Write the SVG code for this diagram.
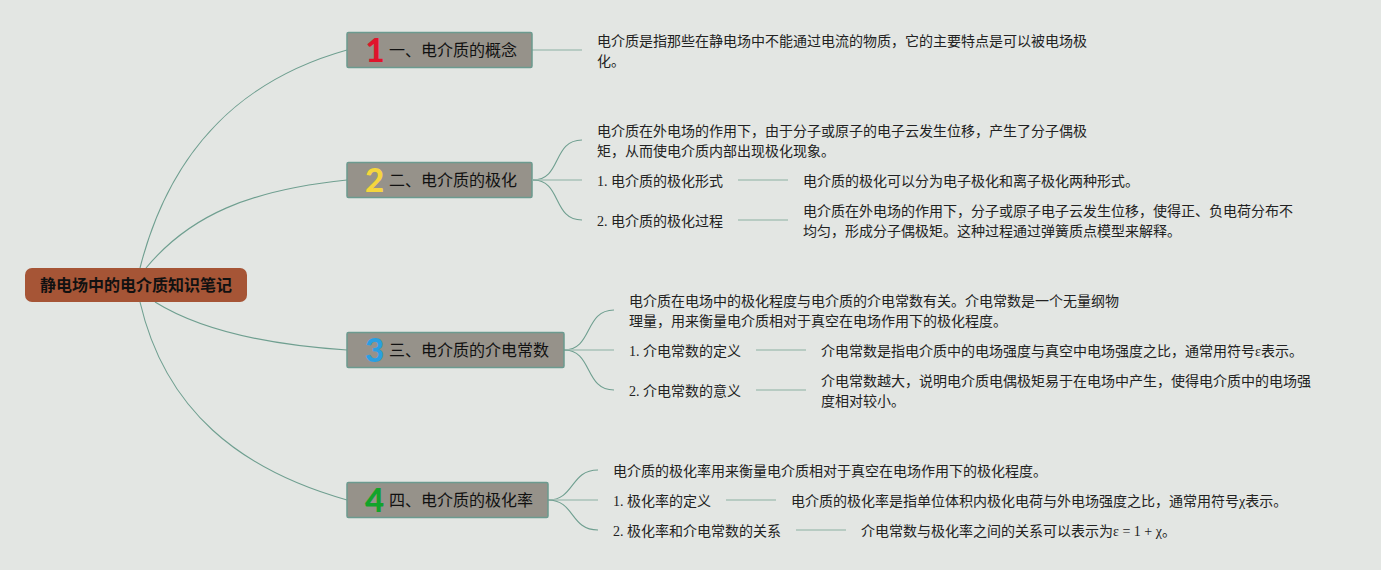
<svg xmlns="http://www.w3.org/2000/svg" width="1381" height="570" viewBox="0 0 1381 570">
<style>
text{font-family:"Liberation Serif","Noto Sans CJK SC",sans-serif;font-size:14px;fill:#222}
.n{fill:#96928a;stroke:#6b9a8f;stroke-width:1.5}
.t{font-family:"Noto Sans CJK SC",sans-serif;font-size:16px;fill:#111}
.r{font-family:"Noto Sans CJK SC",sans-serif;font-size:16px;font-weight:700;fill:#111}
.i{font-family:"Lato",sans-serif;font-size:33px;font-weight:900;text-anchor:middle}
.i1{fill:#e0142c}.i2{fill:#f5d63d}.i3{fill:#2a9fe0}.i4{fill:#12a32a}
.c{fill:none;stroke:#6f9f90;stroke-width:1.1}
.l{fill:none;stroke:#a9c2b8;stroke-width:1.5}
</style>
<rect width="1381" height="570" fill="#e3e6e3"/>
<g id="connectors">
<path class="c" d="M140 268C170 150 240 80 347 50"/>
<path class="c" d="M146 268C190 215 250 190 347 180"/>
<path class="c" d="M155 302C200 330 270 345 347 350"/>
<path class="c" d="M140 302C165 410 240 470 347 500"/>
<path class="l" d="M532 50H582"/>
<path class="c" d="M533 180C562 180 552 140 582 140"/>
<path class="l" d="M533 180H582"/>
<path class="c" d="M533 180C562 180 552 220 582 220"/>
<path class="l" d="M738 180H788M738 220H788"/>
<path class="c" d="M564 350C593 350 584 310 614 310"/>
<path class="l" d="M564 350H614"/>
<path class="c" d="M564 350C593 350 584 390 614 390"/>
<path class="l" d="M756 350H806M756 390H806"/>
<path class="c" d="M548 500C575 500 570 470 598 470"/>
<path class="l" d="M548 500H598"/>
<path class="c" d="M548 500C575 500 570 530 598 530"/>
<path class="l" d="M726 500H776M796 530H846"/>
</g>
<g id="root"><rect x="25" y="268" width="222" height="34" rx="7" fill="#a65536"/><text class="r" x="40" y="291">静电场中的电介质知识笔记</text></g>
<g id="n1"><rect class="n" x="347" y="32.5" width="185" height="35" rx="1.5"/><text class="i i1" x="375" y="62">1</text><text class="t" x="389" y="56">一、电介质的概念</text></g>
<g id="n2"><rect class="n" x="347" y="162.5" width="185" height="35" rx="1.5"/><text class="i i2" x="374.500" y="192">2</text><text class="t" x="389" y="186">二、电介质的极化</text></g>
<g id="n3"><rect class="n" x="347" y="332.5" width="217" height="35" rx="1.5"/><text class="i i3" x="374.500" y="362">3</text><text class="t" x="389" y="356">三、电介质的介电常数</text></g>
<g id="n4"><rect class="n" x="347" y="482.5" width="201" height="35" rx="1.5"/><text class="i i4" x="374.500" y="512">4</text><text class="t" x="389" y="506">四、电介质的极化率</text></g>
<g id="d1"><text x="597" y="46">电介质是指那些在静电场中不能通过电流的物质，它的主要特点是可以被电场极</text><text x="597" y="66">化。</text></g>
<g id="d2"><text x="597" y="136">电介质在外电场的作用下，由于分子或原子的电子云发生位移，产生了分子偶极</text><text x="597" y="156">矩，从而使电介质内部出现极化现象。</text></g>
<g id="d21"><text x="597" y="186">1. 电介质的极化形式</text></g>
<g id="d21a"><text x="803" y="186">电介质的极化可以分为电子极化和离子极化两种形式。</text></g>
<g id="d22"><text x="597" y="226">2. 电介质的极化过程</text></g>
<g id="d22a"><text x="803" y="216">电介质在外电场的作用下，分子或原子电子云发生位移，使得正、负电荷分布不</text><text x="803" y="236">均匀，形成分子偶极矩。这种过程通过弹簧质点模型来解释。</text></g>
<g id="d3"><text x="629" y="306">电介质在电场中的极化程度与电介质的介电常数有关。介电常数是一个无量纲物</text><text x="629" y="326">理量，用来衡量电介质相对于真空在电场作用下的极化程度。</text></g>
<g id="d31"><text x="629" y="356">1. 介电常数的定义</text></g>
<g id="d31a"><text x="821" y="356">介电常数是指电介质中的电场强度与真空中电场强度之比，通常用符号ε表示。</text></g>
<g id="d32"><text x="629" y="396">2. 介电常数的意义</text></g>
<g id="d32a"><text x="821" y="386">介电常数越大，说明电介质电偶极矩易于在电场中产生，使得电介质中的电场强</text><text x="821" y="406">度相对较小。</text></g>
<g id="d4"><text x="613" y="476">电介质的极化率用来衡量电介质相对于真空在电场作用下的极化程度。</text></g>
<g id="d41"><text x="613" y="506">1. 极化率的定义</text></g>
<g id="d41a"><text x="791" y="506">电介质的极化率是指单位体积内极化电荷与外电场强度之比，通常用符号χ表示。</text></g>
<g id="d42"><text x="613" y="536">2. 极化率和介电常数的关系</text></g>
<g id="d42a"><text x="861" y="536">介电常数与极化率之间的关系可以表示为ε = 1 + χ。</text></g>
</svg>
